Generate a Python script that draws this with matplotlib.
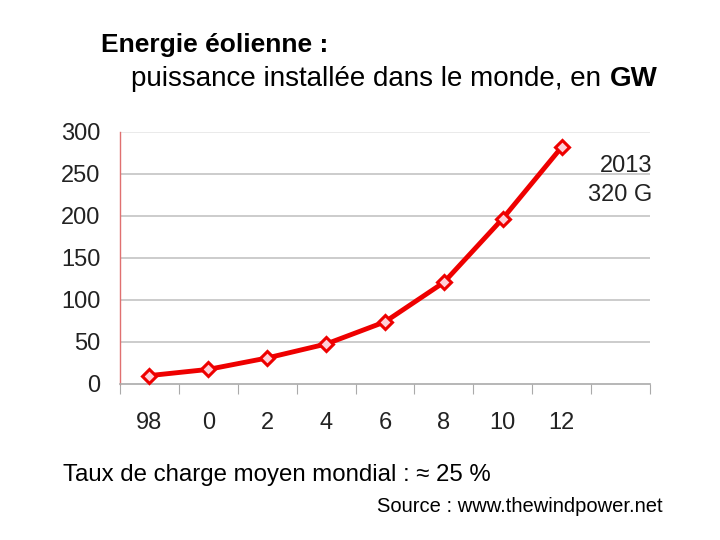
import matplotlib
matplotlib.use("Agg")
import matplotlib.pyplot as plt
import numpy as np

plt.rcParams['font.family'] = ['Liberation Sans', 'DejaVu Sans']

categories = ["98", "0", "2", "4", "6", "8", "10", "12", ""]
values = [10, 17.4, 31, 47.6, 74, 121, 197, 282]
yticks = [0, 50, 100, 150, 200, 250, 300]

fig = plt.figure(figsize=(7.2, 5.4), dpi=100)
ax = fig.add_axes([120/720, 1-384/540, 530/720, 252/540])

x = np.arange(len(values))
ax.plot(x, values, color='#ee0000', lw=3.5, marker='D', markersize=7,
        markerfacecolor='#ffd0d8', markeredgecolor='#ee0000', markeredgewidth=2.2,
        zorder=3, clip_on=False)

ax.set_xlim(-0.5, len(categories) - 0.5)
ax.set_ylim(0, 300)
ax.set_yticks(yticks)
ax.set_yticklabels([str(v) for v in yticks], fontsize=17, color='#222222')
ax.tick_params(axis='y', length=0, pad=14)
ax.set_xticks(np.arange(len(categories) + 1) - 0.5, minor=False)
ax.set_xticklabels([""] * (len(categories) + 1))
ax.set_xticks(np.arange(len(categories)), minor=True)
ax.set_xticklabels(categories, minor=True, fontsize=17, color='#222222')
ax.tick_params(axis='x', which='major', length=7, color='#aaaaaa', direction='out')
ax.tick_params(axis='x', which='minor', length=0, pad=20)

for v in yticks[1:]:
    ax.axhline(v, color='#e6e6e6' if v == 300 else '#c4c4c4', lw=1.2, zorder=1)

for s in ['top', 'right']:
    ax.spines[s].set_visible(False)
ax.spines['left'].set_color('#e07070')
ax.spines['left'].set_linewidth(1)
ax.spines['bottom'].set_color('#aaaaaa')
ax.spines['bottom'].set_linewidth(1.2)

fig.text(652/720, 1-166/540, "2013", ha='right', va='center', fontsize=17, color='#222222')
fig.text(652/720, 1-195/540, "320 G", ha='right', va='center', fontsize=17, color='#222222')

fig.text(101/720, 1-45/540, "Energie éolienne :", ha='left', va='center',
         fontsize=19, fontweight='bold')
t1 = fig.text(131/720, 1-79/540, "puissance installée dans le monde, en", ha='left', va='center',
              fontsize=20)
fig.canvas.draw()
bb = t1.get_window_extent()
fig.text((bb.x1 + 9)/720, 1-79/540, "GW", ha='left', va='center', fontsize=20, fontweight='bold')

fig.text(63/720, 1-475/540, "Taux de charge moyen mondial : ≈ 25 %", ha='left', va='center',
         fontsize=17.3)
fig.text(663/720, 1-506/540, "Source : www.thewindpower.net", ha='right', va='center',
         fontsize=14.5)

fig.savefig("out.png", dpi=100)
